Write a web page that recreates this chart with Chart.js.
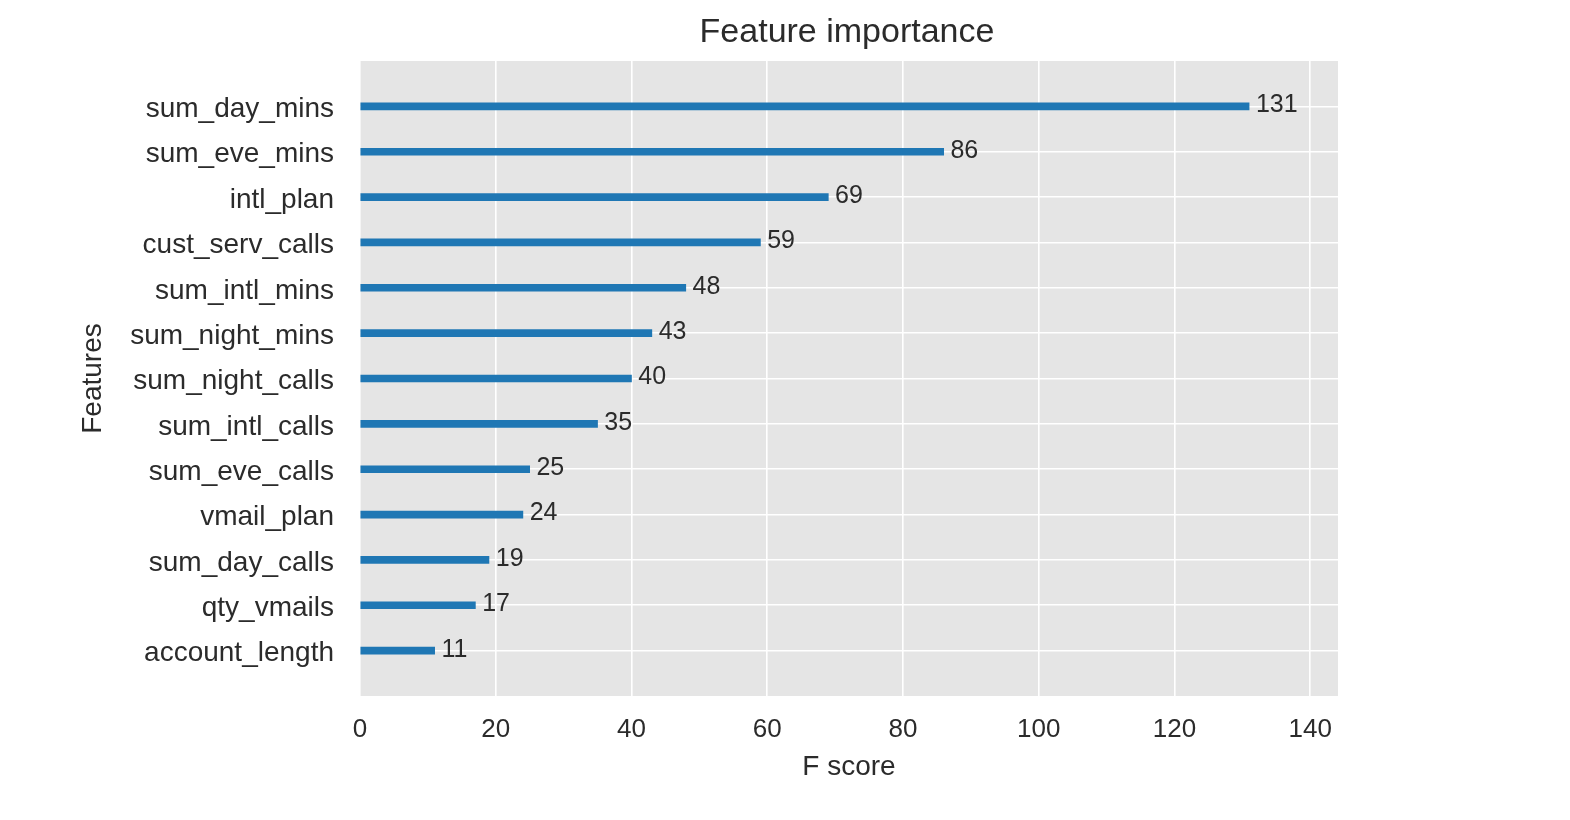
<!DOCTYPE html>
<html>
<head>
<meta charset="utf-8">
<script src="https://cdn.jsdelivr.net/npm/chart.js@4.4.1/dist/chart.umd.min.js"></script>
<style>
  html, body { margin:0; padding:0; background:#fff; }
  #wrap { width:1570px; height:820px; position:relative; }
</style>
</head>
<body>
<div id="wrap"><canvas id="chart"></canvas></div>
<script>
// ======= data (bottom -> top, as in the plot) =======
const features = ['account_length','qty_vmails','sum_day_calls','vmail_plan','sum_eve_calls',
  'sum_intl_calls','sum_night_calls','sum_night_mins','sum_intl_mins','cust_serv_calls',
  'intl_plan','sum_eve_mins','sum_day_mins'];
const fScores = [11, 17, 19, 24, 25, 35, 40, 43, 48, 59, 69, 86, 131];
const xTicks = [0, 20, 40, 60, 80, 100, 120, 140];

const FONT = '"Liberation Sans", Arial, Helvetica, sans-serif';
const TXT = '#2b2b2b';
const xMax = Math.max(...fScores) * 1.1;

// grey panel behind the axes
const panelBg = {
  id:'panelBg',
  beforeDraw(chart){
    const {ctx, chartArea:a} = chart;
    ctx.save();
    ctx.fillStyle = '#e5e5e5';
    ctx.fillRect(a.left, a.top, a.right-a.left, a.bottom-a.top);
    ctx.restore();
  }
};

// title centred over the plot area
const topTitle = {
  id:'topTitle',
  afterDraw(chart){
    const {ctx, chartArea:a} = chart;
    ctx.save();
    ctx.font = '34px ' + FONT;
    ctx.fillStyle = TXT;
    ctx.textAlign = 'center';
    ctx.textBaseline = 'middle';
    ctx.fillText('Feature importance', (a.left+a.right)/2 - 2, 33);
    ctx.restore();
  }
};

// value next to each bar (value + 1, like xgboost)
const valueLabels = {
  id:'valueLabels',
  afterDatasetsDraw(chart){
    const {ctx} = chart;
    const xs = chart.scales.x;
    const meta = chart.getDatasetMeta(0);
    ctx.save();
    ctx.font = '25px ' + FONT;
    ctx.fillStyle = TXT;
    ctx.textAlign = 'left';
    ctx.textBaseline = 'middle';
    meta.data.forEach((bar, i)=>{
      ctx.fillText(String(fScores[i]), xs.getPixelForValue(fScores[i] + 1), bar.y - 1);
    });
    ctx.restore();
  }
};

const ctx = document.getElementById('chart').getContext('2d');
new Chart(ctx, {
  type:'bar',
  data:{
    datasets:[{
      data: fScores.map((v,i)=>({x:v, y:i})),
      backgroundColor:'#1f77b4',
      borderWidth:0,
      barThickness:7
    }]
  },
  options:{
    indexAxis:'y',
    responsive:true,
    maintainAspectRatio:false,
    animation:false,
    layout:{ padding:{ top:61, right:232, bottom:0, left:0 } },
    plugins:{ legend:{display:false}, tooltip:{enabled:false}, title:{display:false} },
    scales:{
      x:{
        type:'linear', min:0, max:xMax,
        afterBuildTicks(scale){ scale.ticks = xTicks.map(v=>({value:v})); },
        afterFit(scale){ scale.height = 124; },
        border:{display:false},
        grid:{ color:'#ffffff', lineWidth:1.6, drawTicks:false },
        ticks:{ padding:18, color:TXT, font:{family:FONT, size:26} },
        title:{ display:true, text:'F score', color:TXT, font:{family:FONT, size:28}, padding:{top:0, bottom:36} }
      },
      y:{
        type:'linear', min:-1, max:features.length, offset:false,
        afterBuildTicks(scale){ scale.ticks = features.map((f,i)=>({value:i})); },
        afterFit(scale){ scale.width = 360; },
        border:{display:false},
        grid:{ color:'#ffffff', lineWidth:1.6, drawTicks:false, offset:false },
        ticks:{ padding:26, labelOffset:3, color:TXT, font:{family:FONT, size:28},
          callback:(v)=> features[v] !== undefined ? features[v] : '' },
        title:{ display:true, text:'Features', color:TXT, font:{family:FONT, size:28}, padding:{top:76, bottom:0} }
      }
    }
  },
  plugins:[panelBg, valueLabels, topTitle]
});
</script>
</body>
</html>
